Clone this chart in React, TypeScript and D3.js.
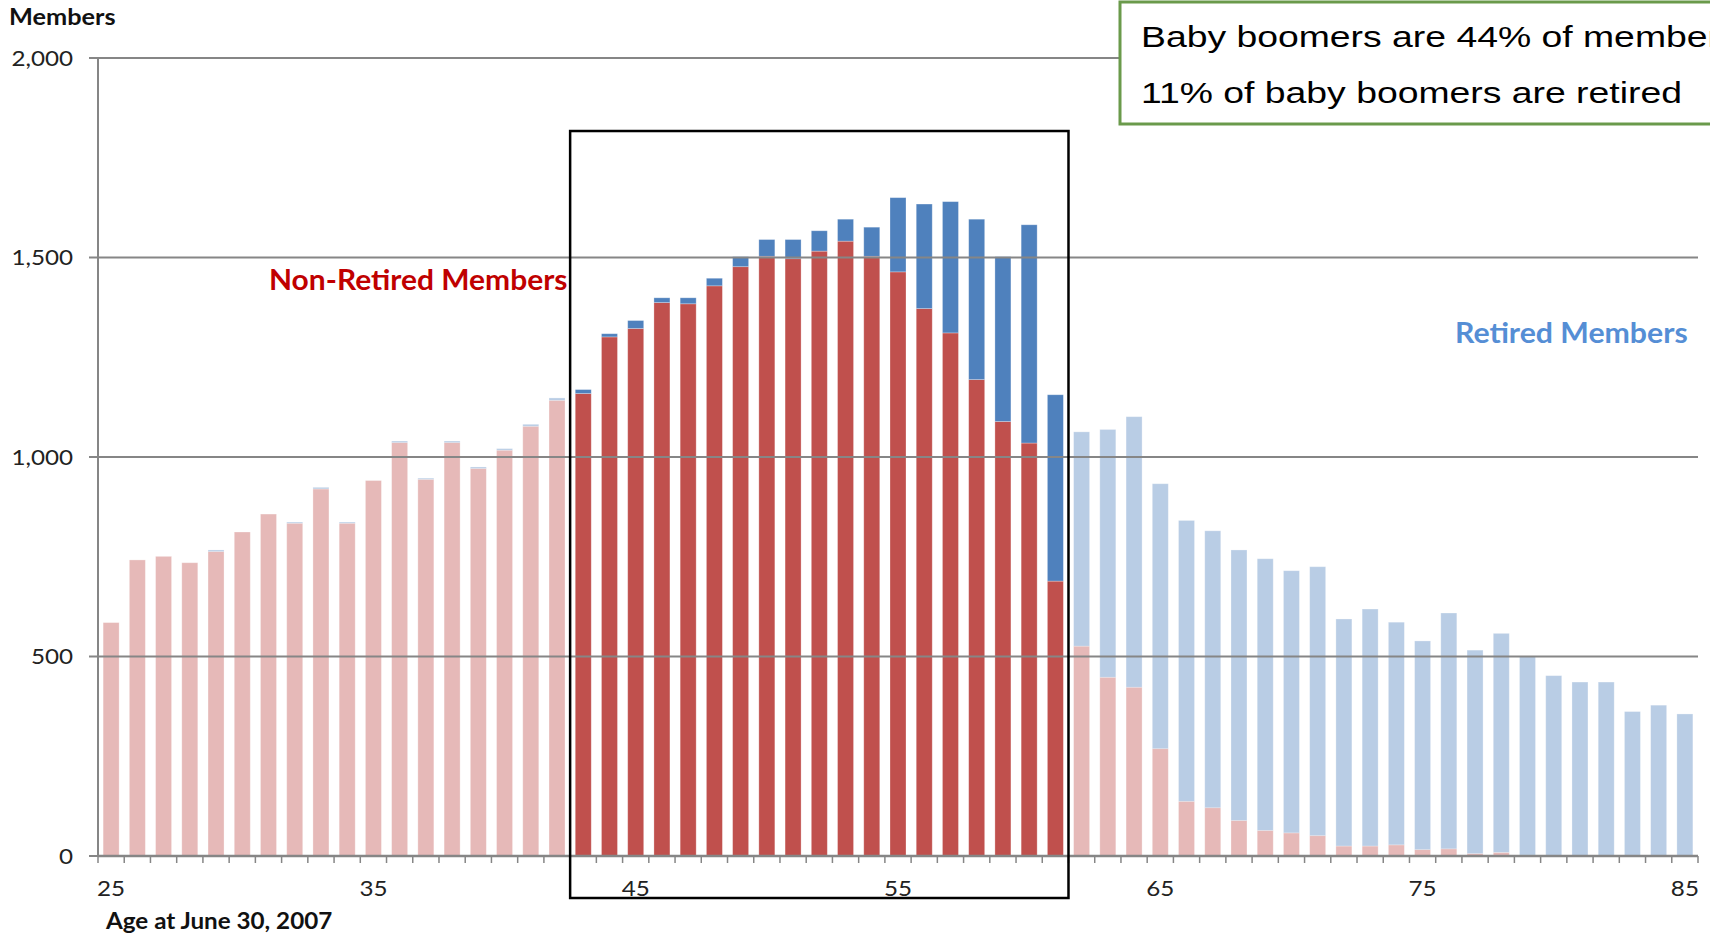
import React from "react";
import * as d3 from "d3";

const ages = [25,26,27,28,29,30,31,32,33,34,35,36,37,38,39,40,41,42,43,44,45,46,47,48,49,50,51,52,53,54,55,56,57,58,59,60,61,62,63,64,65,66,67,68,69,70,71,72,73,74,75,76,77,78,79,80,81,82,83,84,85];

const nonRetired = [585,742,751,735,763,812,857,834,920,834,941,1036,944,1036,971,1017,1077,1142,1159,1301,1322,1387,1384,1429,1477,1503,1497,1516,1541,1503,1464,1372,1311,1194,1089,1035,689,526,448,423,269,137,121,89,64,58,51,25,25,28,16,18,6,9,2,0,0,0,0,0,0];

const retired = [0,0,0,0,4,0,0,3,4,3,0,4,3,4,4,4,5,6,10,8,20,12,15,19,25,42,48,51,55,73,186,262,329,402,413,547,467,537,621,678,664,704,694,678,681,657,674,569,594,558,523,591,510,549,498,452,436,436,362,378,356];

const yTicks = [0, 500, 1000, 1500, 2000];
const xLabelAges = [25, 35, 45, 55, 65, 75, 85];
const boomerStart = 43;
const boomerEnd = 61;
const boxTopValue = 1817;

const RED = "#C0504D";
const BLUE = "#4F81BD";
const GRID = "#868686";

function T(props: any) {
  const { x, y, sx = 1, children, ...rest } = props;
  return (
    <text transform={`translate(${x},${y}) scale(${sx},1)`} {...rest}>
      {children}
    </text>
  );
}

export default function App() {
  const W = 1710, H = 936;
  const left = 98, right = 1698, top = 58, bottom = 856;

  const x = d3.scaleBand<number>().domain(ages).range([left, right]).paddingInner(0.39).paddingOuter(0.195);
  const y = d3.scaleLinear().domain([0, 2000]).range([bottom, top]);
  const step = x.step();
  const bw = x.bandwidth();
  const gapHalf = (step - bw) / 2;

  const stackData = ages.map((a, i) => ({ age: a, nonRetired: nonRetired[i], retired: retired[i] }));
  const stack = d3.stack<any>().keys(["nonRetired", "retired"]);
  const series = stack(stackData);
  const colors = [RED, BLUE];

  const tickEdges = ages.map((a) => (x(a) as number) - gapHalf).concat([(x(ages[ages.length - 1]) as number) + bw + gapHalf]);

  const boxX0 = (x(boomerStart) as number) - gapHalf;
  const boxX1 = (x(boomerEnd) as number) + bw + gapHalf;

  const font = "Lato, 'Open Sans', sans-serif";

  return (
    <svg width={W} height={H} style={{ position: "absolute", left: 0, top: 0, background: "#fff" }} fontFamily={font}>
      <rect x={0} y={0} width={W} height={H} fill="#fff" />
      {series.map((s, si) => (
        <g key={si}>
          {s.map((d: any) => {
            const age = d.data.age;
            const isBoomer = age >= boomerStart && age <= boomerEnd;
            const y0 = y(d[0]);
            const y1 = y(d[1]);
            const h = y0 - y1;
            if (h <= 0) return null;
            return (
              <rect
                key={age}
                x={x(age)}
                y={y1}
                width={bw}
                height={h}
                fill={colors[si]}
                fillOpacity={isBoomer ? 1 : 0.4}
                stroke="#ffffff"
                strokeOpacity={0.35}
                strokeWidth={0.8}
              />
            );
          })}
        </g>
      ))}
      {yTicks.map((t) => (
        <g key={t}>
          <line x1={left - 9} x2={right} y1={y(t)} y2={y(t)} stroke={GRID} strokeWidth={2} />
          <T x={73} y={y(t) + 7.5} sx={1.1} textAnchor="end" fontSize={22} fill="#222">
            {d3.format(",")(t)}
          </T>
        </g>
      ))}
      <line x1={left} x2={left} y1={top} y2={bottom} stroke={GRID} strokeWidth={2} />
      <line x1={left} x2={right} y1={bottom} y2={bottom} stroke={GRID} strokeWidth={2.5} />
      {tickEdges.map((e, i) => (
        <line key={i} x1={e} x2={e} y1={bottom} y2={bottom + 7} stroke={GRID} strokeWidth={1.5} />
      ))}
      {xLabelAges.map((a) => (
        <T key={a} x={(x(a) as number) + bw / 2} y={bottom + 40} sx={1.1} textAnchor="middle" fontSize={22} fill="#222">
          {a}
        </T>
      ))}
      <rect x={boxX0} y={y(boxTopValue)} width={boxX1 - boxX0} height={898 - y(boxTopValue)} fill="none" stroke="#000" strokeWidth={2.5} />
      <T x={9} y={25} sx={1.1} fontSize={23} fontWeight="bold" fill="#111">Members</T>
      <T x={106} y={929} sx={1.1} fontSize={22} fontWeight="bold" fill="#111">Age at June 30, 2007</T>
      <T x={269} y={290} sx={1.07} fontSize={28} fontWeight="bold" fill="#C00000">Non-Retired Members</T>
      <T x={1455} y={343} sx={1.08} fontSize={28} fontWeight="bold" fill="#558ED5">Retired Members</T>
      <rect x={1120} y={2} width={640} height={122} fill="#fff" stroke="#6A9A4B" strokeWidth={3} />
      <g fontFamily="'Liberation Sans', Arial, sans-serif" fontSize={30} fill="#000">
        <T x={1141} y={47} sx={1.245}>Baby boomers are 44% of members</T>
        <T x={1141} y={103} sx={1.245}>11% of baby boomers are retired</T>
      </g>
    </svg>
  );
}
